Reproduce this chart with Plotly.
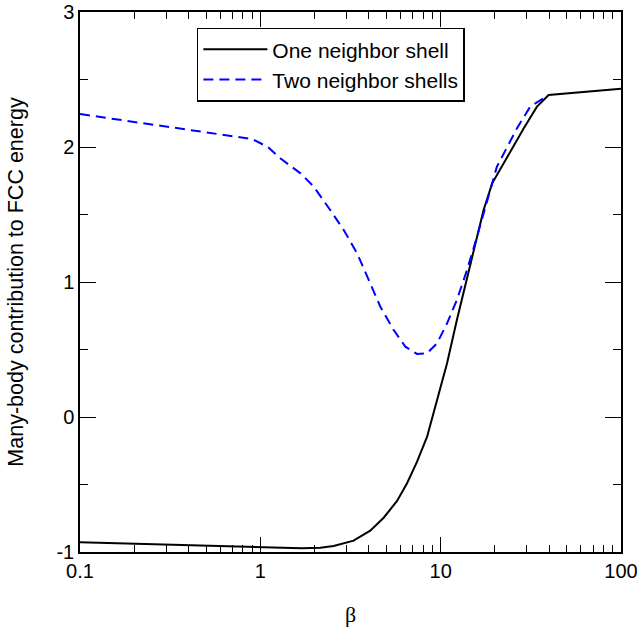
import plotly.graph_objects as go

# One neighbor shell (solid black)
beta_one = [0.1, 1.0, 1.7, 2.15, 2.55, 3.29, 4.07, 4.83, 5.73, 6.51, 7.40, 8.41, 9.55,
            10.85, 12.3, 15.2, 17.3, 19.3, 23.4, 28.9, 34.2, 39.7, 100]
energy_one = [-0.928, -0.965, -0.973, -0.968, -0.956, -0.916, -0.842, -0.746, -0.622, -0.491,
              -0.331, -0.146, 0.126, 0.398, 0.718, 1.213, 1.533, 1.731, 1.928, 2.139, 2.299,
              2.385, 2.432]

# Two neighbor shells (dashed blue)
beta_two = [0.1, 0.9, 1.1, 1.29, 1.67, 1.98, 2.44, 2.90, 3.44, 3.91, 4.63, 5.49, 6.37, 7.39,
            8.41, 9.55, 10.85, 12.3, 14.0, 15.9, 20.5, 26.5, 31.4, 39.7]
energy_two = [2.244, 2.059, 2.0, 1.916, 1.805, 1.706, 1.533, 1.385, 1.213, 1.039, 0.817, 0.644,
              0.521, 0.467, 0.472, 0.546, 0.694, 0.867, 1.089, 1.336, 1.854, 2.139, 2.30,
              2.385]

x_major = [0.1, 1, 10, 100]
x_major_text = ["0.1", "1", "10", "100"]
x_minor = [m * d for d in (0.1, 1, 10) for m in range(2, 10)]
y_major = [-1, 0, 1, 2, 3]
y_major_text = ["-1", "0", "1", "2", "3"]

font_main = "Liberation Sans, Arial, sans-serif"

fig = go.Figure()
fig.add_trace(go.Scatter(x=beta_one, y=energy_one, mode="lines", name="One neighbor shell",
                         line=dict(color="black", width=2)))
fig.add_trace(go.Scatter(x=beta_two, y=energy_two, mode="lines", name="Two neighbor shells",
                         line=dict(color="#0000ff", width=2, dash="10px,6px")))

fig.update_layout(
    width=640, height=628,
    margin=dict(l=80, r=19, t=12, b=76),
    paper_bgcolor="white", plot_bgcolor="white",
    font=dict(family=font_main, size=20, color="black"),
    showlegend=True,
    legend=dict(x=0.216, y=0.971, xanchor="left", yanchor="top",
                bordercolor="black", borderwidth=1.5, bgcolor="white",
                font=dict(size=21, family=font_main), itemwidth=64),
)
fig.update_xaxes(
    type="log", range=[-1, 2], automargin=False, ticklabeloverflow="allow",
    tickvals=x_major, ticktext=x_major_text,
    ticks="inside", ticklen=15, tickwidth=1, tickcolor="black",
    showline=True, linecolor="black", linewidth=1.5, mirror="ticks",
    showgrid=False, zeroline=False,
    minor=dict(tickvals=x_minor, ticks="inside", ticklen=7, tickwidth=1, tickcolor="black", showgrid=False),
    title=dict(text="β", font=dict(family="Liberation Serif, Times New Roman, serif", size=22), standoff=26),
    tickfont=dict(size=20),
)
fig.update_yaxes(
    range=[-1, 3], automargin=False, ticklabeloverflow="allow",
    tickvals=y_major, ticktext=y_major_text,
    ticks="inside", ticklen=16, tickwidth=1, tickcolor="black",
    showline=True, linecolor="black", linewidth=1.5, mirror="ticks",
    showgrid=False, zeroline=False,
    minor=dict(dtick=0.5, ticks="inside", ticklen=8, tickwidth=1, tickcolor="black", showgrid=False),
    title=dict(text="Many-body contribution to FCC energy", font=dict(size=21.5), standoff=27),
    tickfont=dict(size=20),
)

fig.write_html("out.html", config={"displayModeBar": False},
               post_script="document.body.style.margin='0';")
